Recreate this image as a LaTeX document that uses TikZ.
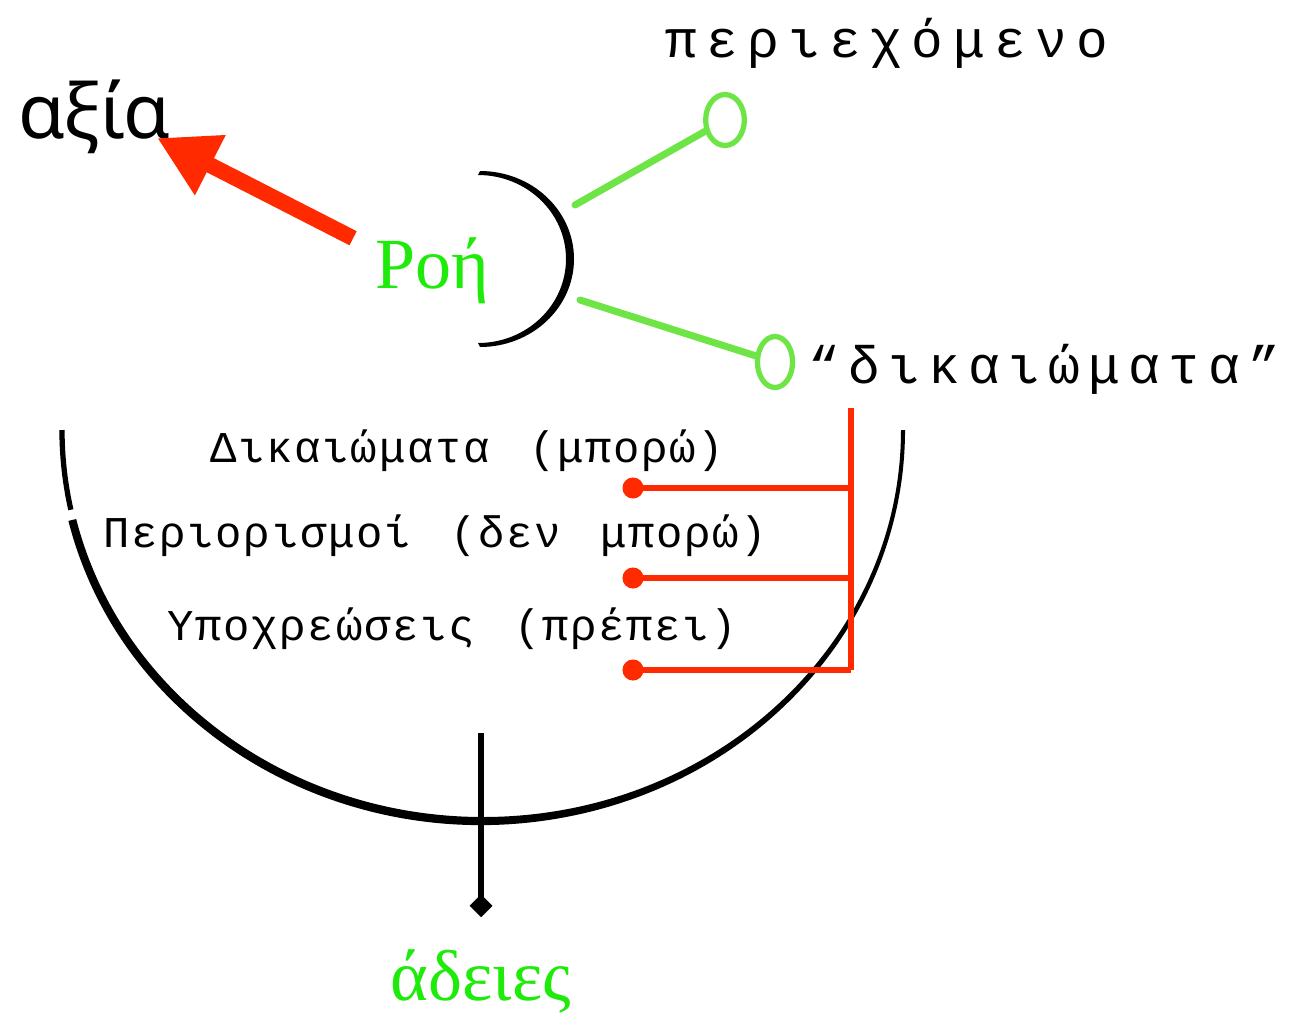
\documentclass[tikz,border=0pt]{standalone}
\usepackage{fontspec}
\setmainfont{Liberation Serif}
\newfontfamily\sansgr{Noto Sans}
\newfontfamily\monogr{Liberation Mono}
\newfontfamily\listgr[LetterSpace=4,WordSpace=1.4]{Liberation Mono}
\usetikzlibrary{arrows.meta,shapes.geometric}

\definecolor{flowred}{RGB}{255,42,0}
\definecolor{textgreen}{RGB}{30,235,10}
\definecolor{brushgreen}{RGB}{110,228,70}

\begin{document}
\begin{tikzpicture}[
    x=0.02cm, y=0.02cm,
    every node/.style={inner sep=0pt},
    bigmono/.style={font=\monogr\fontsize{30}{33}\selectfont\addfontfeature{LetterSpace=18}, anchor=base west},
    quotemono/.style={font=\monogr\fontsize{30}{33}\selectfont\addfontfeature{LetterSpace=16}, anchor=base west},
    listmono/.style={font=\listgr\fontsize{25}{28}\selectfont, anchor=base west},
    greenword/.style={font=\fontsize{41}{44}\selectfont, text=textgreen},
    twig/.style={draw=brushgreen, line width=4pt, line cap=round},
    bud/.style={ellipse, draw=brushgreen, line width=3pt},
    redline/.style={draw=flowred, line width=3pt},
    reddot/.style={circle, fill=flowred, minimum size=12pt}
]
\useasboundingbox (0,0) rectangle (1298,-1025);

% words
\node (axia)    [font=\sansgr\fontsize{43}{46}\selectfont, anchor=base west] at (18,-138) {αξία};
\node (roi)     [greenword, anchor=base west] at (375,-288) {Ροή};
\node (periex)  [bigmono] at (665,-57)  {περιεχόμενο};
\node (dikaiom) [quotemono] at (808,-383) {“δικαιώματα”};
\node (dik)     [listmono] at (210,-462) {Δικαιώματα (μπορώ)};
\node (perior)  [listmono] at (103,-547) {Περιορισμοί (δεν μπορώ)};
\node (ypoxr)   [listmono] at (167,-640) {Υποχρεώσεις (πρέπει)};
\node (adeies)  [greenword, anchor=base] at (481,-1000) {άδειες};

% flow to value
\draw[-{Triangle[length=34pt,width=36pt]}, draw=flowred, fill=flowred, line width=9pt,
      shorten <=14pt]
    (roi.160) -- ([shift={(-14,0)}]axia.base east);

% small bracket (brush stroke) and its two branches
\fill (480,-171) arc[start angle=90, end angle=-90, x radius=94, y radius=88]
      -- (478,-343) arc[start angle=-90, end angle=90, x radius=88, y radius=84]
      -- cycle;
\coordinate (br1) at (575,-205);
\coordinate (br2) at (580,-300);
\node (bud1) [bud, minimum width=22pt, minimum height=29pt] at (725,-120) {};
\node (bud2) [bud, minimum width=20pt, minimum height=29pt] at (775,-362) {};
\draw[twig] (br1) -- (bud1);
\draw[twig] (br2) -- (bud2);

% big bowl (brush stroke, thick on the left, thinner on the right)
\draw[line width=3pt] (62,-430) arc[start angle=180, end angle=191.8, x radius=419, y radius=390];
\fill (68.4,-520.9) arc[start angle=193.3, end angle=360, x radius=424, y radius=395]
      -- (901,-430) arc[start angle=360, end angle=193.3, x radius=418, y radius=387]
      -- cycle;

% stem to permits
\coordinate (stemtop) at (481,-733);
\draw[-{Diamond[length=13pt,width=13pt]}, line width=3pt, shorten >=18pt] (stemtop) -- (adeies.north);

% red bracket
\coordinate (rtop) at (851,-408);
\foreach \i/\y in {1/488,2/578,3/670}{
    \coordinate (j\i) at (851,-\y);
    \node (dot\i) [reddot] at (633,-\y) {};
    \draw[redline] (dot\i.center) -- (j\i);
}
\draw[redline] (rtop) -- (j3);

\end{tikzpicture}
\end{document}
